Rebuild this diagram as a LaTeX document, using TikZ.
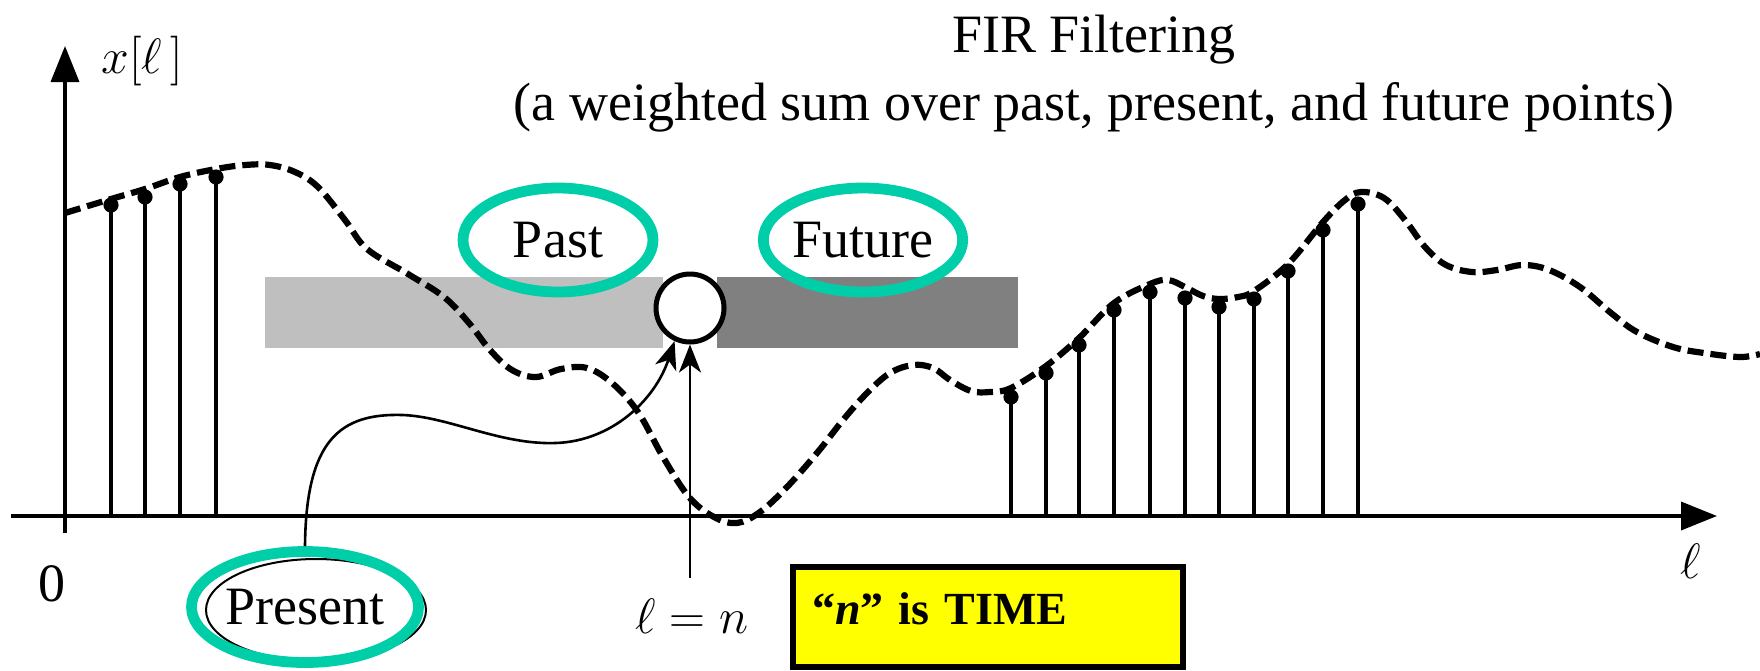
\documentclass[tikz,border=0pt]{standalone}
\usepackage{fontspec}
\setmainfont{Liberation Serif}
\usetikzlibrary{shapes.geometric,arrows.meta}
\definecolor{tealring}{RGB}{0,206,168}
\definecolor{pastgray}{RGB}{191,191,191}
\definecolor{futgray}{RGB}{128,128,128}
\definecolor{boxyellow}{RGB}{255,255,0}
\tikzset{
  axisline/.style={line width=1.8pt},
  stemline/.style={line width=1.9pt},
  signal/.style={line width=3.1pt, dash pattern=on 8pt off 3.5pt},
  ringlabel/.style={ellipse, draw=tealring, line width=5.4pt, inner sep=0pt, font=\fontsize{27}{32}\selectfont},
  txt/.style={font=\fontsize{27}{32}\selectfont, inner sep=0pt},
  mathtxt/.style={font=\fontsize{26}{30}\selectfont, inner sep=0pt},
  conn/.style={line width=1.3pt, -{Stealth[length=14pt,width=11pt,inset=4pt]}},
}
\begin{document}
\begin{tikzpicture}[x=0.5pt,y=-0.5pt]
\useasboundingbox (0,0) rectangle (1760,670);

% window bars
\fill[pastgray] (265,277) rectangle (663,348);
\fill[futgray] (717,277) rectangle (1018,348);

% axes
\coordinate (o) at (65,516);
\coordinate (xstart) at (11,516);
\coordinate (xend) at (1717,516);
\coordinate (ybot) at (65,533);
\coordinate (ytop) at (65,46);
\draw[axisline, -{Triangle[length=18pt,width=14pt]}] (xstart) -- (xend);
\draw[axisline, -{Triangle[length=18pt,width=14pt]}] (ybot) -- (ytop);

% stems
\foreach \sx/\sy in {111/205,145/197,180/184,216/177,
  1011/397,1046/373,1079/345,1114/310,1150/292,1185/298,1219/307,1254/299,1288/271,1323/230,1358/204}{
  \draw[stemline] (\sx,516) -- (\sx,\sy);
  \fill (\sx,\sy) circle[radius=3.8pt];
}

% dashed signal
\draw[signal] plot[smooth, tension=0.6] coordinates {
(65,213) (111,199) (145,189) (180,177) (216,169) (245,165) (270,165) (295,172) (318,187)
(345,220) (367,249) (408,274) (444,297) (469,323) (490,350) (512,370) (536,377) (561,369)
(587,368) (612,383) (638,412) (663,457) (689,497) (714,517) (737,523) (760,512) (787,487)
(817,453) (843,420) (867,393) (890,373) (913,365) (933,368) (950,380) (971,391) (990,392)
(1011,388) (1046,366) (1079,338) (1114,303) (1150,284) (1168,280) (1185,287) (1203,296)
(1219,299) (1238,297) (1254,291) (1288,264) (1323,222) (1345,200) (1361,192) (1384,198)
(1405,220) (1425,247) (1446,265) (1472,272) (1497,270) (1523,265) (1549,270) (1580,287)
(1611,313) (1637,332) (1673,347) (1704,353) (1740,357) (1760,354)};

% present sample circle
\node[circle, draw, fill=white, line width=2.5pt, minimum size=34pt, inner sep=0pt] (now) at (690,308) {};

% labels with rings
\node[ringlabel, minimum width=95pt, minimum height=52pt] (past) at (558,240) {Past};
\node[ringlabel, minimum width=95pt, minimum height=52pt] (future) at (863,240) {Future};
\node[ellipse, draw, line width=1pt, minimum width=110pt, minimum height=51pt, inner sep=0pt] (presentrim) at (316,610) {};
\node[ringlabel, minimum width=113.5pt, minimum height=55.5pt] (present) at (305,607) {Present};

% connectors to present sample
\draw[conn] (present.north) .. controls (306,440) and (340,413) .. (403,415)
  .. controls (450,417) and (500,445) .. (556,443)
  .. controls (612,441) and (655,400) .. (now.-115);
\coordinate (lnbot) at (690,578);
\draw[conn] (lnbot) -- (now.south);

% axis labels
\node[mathtxt, anchor=base west] (ylab) at (101,73) {$x[\ell\,]$};
\node[mathtxt] (xlab) at (1691,561) {$\ell$};
\node[txt] (zero) at (52,584) {0};
\node[mathtxt] (elln) at (692,616) {$\ell = n$};

% title
\node[txt, anchor=base] (title) at (1094,52) {FIR Filtering};
\node[txt, anchor=base] (subtitle) at (1094,120) {(a weighted sum over past, present, and future points)};

% yellow note
\node[draw, fill=boxyellow, line width=3.2pt, minimum width=195pt, minimum height=50pt,
  text width=176pt, inner xsep=9.5pt, align=left, text height=15pt, text depth=7.5pt,
  font=\fontsize{23}{27}\selectfont\bfseries] (timebox) at (988,617)
  {``\textit{n}'' is TIME};
\end{tikzpicture}
\end{document}
